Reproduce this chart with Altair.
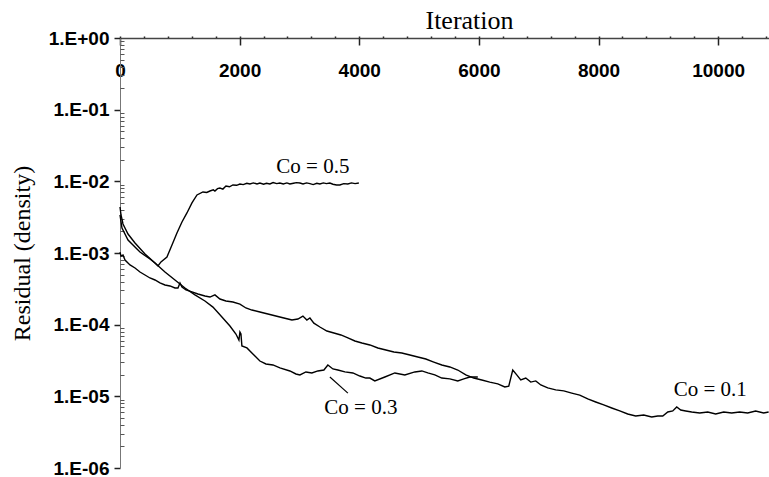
import altair as alt
import pandas as pd

# Residual history (density) for three Courant numbers
iter_co05 = [0, 33, 134, 334, 501, 585, 635, 685, 785, 869,
             952, 1036, 1119, 1203, 1287, 1387, 1450, 1504, 1560, 1587,
             1630, 1671, 1720, 1771, 1830, 1888, 1950, 2005, 2060, 2120,
             2172, 2230, 2290, 2339, 2400, 2450, 2506, 2560, 2620, 2673,
             2730, 2790, 2840, 2900, 2950, 3008, 3060, 3120, 3175, 3230,
             3290, 3342, 3400, 3450, 3509, 3560, 3620, 3676, 3740, 3809,
             3870, 3930, 3993]
res_co05 = [3.39e-3, 2.23e-3, 1.52e-3, 1.03e-3, 8.25e-4, 7.26e-4, 6.59e-4, 7.5e-4, 8.8e-4, 1.29e-3,
            1.90e-3, 2.71e-3, 3.62e-3, 4.99e-3, 6.45e-3, 7.10e-3, 7.0e-3, 7.33e-3, 7.6e-3, 7.3e-3,
            7.9e-3, 8.07e-3, 7.8e-3, 8.61e-3, 8.4e-3, 8.89e-3, 8.8e-3, 9.18e-3, 9.0e-3, 9.4e-3,
            9.18e-3, 9.5e-3, 9.2e-3, 9.48e-3, 9.1e-3, 9.4e-3, 9.18e-3, 9.6e-3, 9.3e-3, 9.48e-3,
            9.2e-3, 9.5e-3, 9.18e-3, 9.4e-3, 9.6e-3, 9.48e-3, 9.2e-3, 9.5e-3, 9.3e-3, 9.0e-3,
            9.4e-3, 9.18e-3, 9.5e-3, 9.3e-3, 9.48e-3, 9.1e-3, 8.9e-3, 8.89e-3, 9.3e-3, 9.18e-3,
            9.5e-3, 9.3e-3, 9.48e-3]

iter_co03 = [0, 17, 50, 134, 251, 418, 585, 752, 919, 1086,
             1253, 1420, 1554, 1704, 1838, 1938, 1988, 2005, 2022, 2038,
             2122, 2222, 2339, 2440, 2557, 2673, 2840, 2941, 3008, 3108,
             3208, 3308, 3409, 3475, 3559, 3643, 3760, 3893, 4010, 4110,
             4177, 4260, 4428, 4595, 4762, 4929, 5046, 5146, 5263, 5380,
             5514, 5647, 5748, 5848, 5982]
res_co03 = [4.38e-3, 3.39e-3, 2.54e-3, 1.84e-3, 1.38e-3, 9.69e-4, 7.26e-4, 5.43e-4, 4.20e-4, 3.25e-4,
            2.60e-4, 2.14e-4, 1.76e-4, 1.28e-4, 9.59e-5, 7.41e-5, 6.11e-5, 7.9e-5, 7.41e-5, 5.04e-5,
            4.73e-5, 3.90e-5, 3.11e-5, 2.83e-5, 2.74e-5, 2.49e-5, 2.26e-5, 2.05e-5, 1.99e-5, 2.19e-5,
            2.12e-5, 2.26e-5, 2.33e-5, 2.74e-5, 2.41e-5, 2.33e-5, 2.19e-5, 2.12e-5, 1.92e-5, 1.80e-5,
            1.80e-5, 1.64e-5, 1.86e-5, 2.12e-5, 1.99e-5, 2.19e-5, 2.26e-5, 2.12e-5, 1.99e-5, 1.80e-5,
            1.75e-5, 1.64e-5, 1.75e-5, 1.86e-5, 1.86e-5]

iter_co01 = [0, 17, 50, 84, 167, 251, 334, 418, 501, 585,
             668, 752, 835, 919, 969, 1003, 1036, 1103, 1203, 1303,
             1420, 1504, 1587, 1671, 1771, 1888, 2005, 2105, 2205, 2339,
             2473, 2606, 2740, 2874, 2974, 3058, 3124, 3175, 3241, 3342,
             3459, 3576, 3693, 3810, 3927, 4044, 4177, 4311, 4445, 4579,
             4712, 4846, 4979, 5113, 5246, 5380, 5514, 5647, 5781, 5915,
             6049, 6182, 6316, 6433, 6499, 6566, 6633, 6700, 6784, 6867,
             6951, 7035, 7151, 7285, 7419, 7552, 7686, 7820, 7953, 8087,
             8221, 8355, 8488, 8622, 8756, 8889, 8990, 9074, 9158, 9241,
             9308, 9374, 9458, 9558, 9692, 9826, 9959, 10093, 10226, 10360,
             10494, 10627, 10761, 10844]
res_co01 = [1.03e-3, 9.08e-4, 9.39e-4, 7.98e-4, 6.81e-4, 6.18e-4, 5.43e-4, 4.93e-4, 4.48e-4, 4.20e-4,
            3.82e-4, 3.58e-4, 3.47e-4, 3.25e-4, 3.25e-4, 3.82e-4, 3.36e-4, 3.05e-4, 2.86e-4, 2.68e-4,
            2.51e-4, 2.43e-4, 2.60e-4, 2.28e-4, 2.14e-4, 2.07e-4, 1.94e-4, 1.71e-4, 1.60e-4, 1.50e-4,
            1.41e-4, 1.32e-4, 1.24e-4, 1.16e-4, 1.20e-4, 1.32e-4, 1.16e-4, 1.24e-4, 1.05e-4, 9.28e-5,
            8.16e-5, 7.66e-5, 7.18e-5, 6.52e-5, 5.92e-5, 5.55e-5, 5.21e-5, 4.73e-5, 4.43e-5, 4.16e-5,
            4.03e-5, 3.78e-5, 3.54e-5, 3.32e-5, 3.01e-5, 2.74e-5, 2.57e-5, 2.33e-5, 1.99e-5, 1.80e-5,
            1.69e-5, 1.58e-5, 1.49e-5, 1.35e-5, 1.39e-5, 2.33e-5, 1.99e-5, 1.69e-5, 1.80e-5, 1.58e-5,
            1.64e-5, 1.44e-5, 1.31e-5, 1.23e-5, 1.19e-5, 1.11e-5, 1.04e-5, 9.19e-6, 8.34e-6, 7.58e-6,
            6.88e-6, 6.25e-6, 5.67e-6, 5.32e-6, 5.49e-6, 5.15e-6, 5.32e-6, 5.32e-6, 6.05e-6, 6.25e-6,
            7.10e-6, 6.44e-6, 6.25e-6, 6.05e-6, 5.86e-6, 6.05e-6, 5.67e-6, 6.05e-6, 5.86e-6, 6.05e-6,
            5.86e-6, 6.25e-6, 5.86e-6, 6.05e-6]

# Curve labels and the leader line for Co = 0.3
label_text = ["Co = 0.5", "Co = 0.3", "Co = 0.1"]
label_iter = [3225, 4027, 9867]
label_res = [1.58e-2, 6.87e-6, 1.23e-5]
leader_iter = [3509, 3810]
leader_res = [1.86e-5, 1.11e-5]

# Axis ticks
x_major = [0, 2000, 4000, 6000, 8000, 10000]
x_all = list(range(0, 10801, 400))
y_major = [1e-6, 1e-5, 1e-4, 1e-3, 1e-2, 1e-1, 1.0]
y_minor = [m * 10.0 ** k for k in range(-6, 0) for m in range(2, 10)]

df = pd.concat([
    pd.DataFrame({"iteration": iter_co05, "residual": res_co05, "series": "Co = 0.5"}),
    pd.DataFrame({"iteration": iter_co03, "residual": res_co03, "series": "Co = 0.3"}),
    pd.DataFrame({"iteration": iter_co01, "residual": res_co01, "series": "Co = 0.1"}),
], ignore_index=True)
labels_df = pd.DataFrame({"text": label_text, "iteration": label_iter, "residual": label_res})
leader_df = pd.DataFrame({"x1": [leader_iter[0]], "x2": [leader_iter[1]],
                          "y1": [leader_res[0]], "y2": [leader_res[1]]})

x_scale = alt.Scale(domain=[0, 10850], nice=False, zero=False)
y_scale = alt.Scale(type="log", domain=[1e-6, 1.0], nice=False)

sci_label = ("datum.value >= 1 ? '1.E+00' : "
             "'1.E-0' + format(round(-log(datum.value) / LN10), 'd')")

lines = alt.Chart(df).mark_line(color="black", strokeWidth=1.4).encode(
    x=alt.X("iteration:Q", scale=x_scale, axis=alt.Axis(
        orient="top", values=x_all, grid=False,
        labelExpr="datum.value % 2000 == 0 ? format(datum.value, 'd') : ''",
        labelFont="Liberation Sans", labelFontWeight="bold", labelFontSize=19,
        labelColor="black", labelBaseline="alphabetic", labelPadding=-40,
        labelFlush=False, labelOverlap=False,
        tickSize=2, tickColor="#222", tickWidth=1.5,
        domainColor="#444", domainWidth=1.5,
        title="Iteration", titleFont="Liberation Serif", titleFontSize=26,
        titleFontWeight="normal", titleColor="black",
        titleX=349, titleY=-10, titleBaseline="alphabetic", titleAlign="center")),
    y=alt.Y("residual:Q", scale=y_scale, axis=alt.Axis(
        orient="left", values=y_major, grid=False, labelExpr=sci_label,
        labelFont="Liberation Sans", labelFontWeight="bold", labelFontSize=19,
        labelColor="black", labelPadding=5, labelOverlap=False,
        tickSize=6, tickColor="#222", tickWidth=1.5,
        domainColor="#777", domainWidth=1,
        title="Residual (density)", titleFont="Liberation Serif", titleFontSize=24,
        titleFontWeight="normal", titleColor="black", titleAngle=270,
        titleX=-98, titleY=215, titleAlign="center", titleBaseline="middle")),
    detail="series:N",
)

# Second set of axes: long major ticks below the top axis, minor log ticks inside the left axis
ticks = alt.Chart(df).mark_point(opacity=0, size=0).encode(
    x=alt.X("iteration:Q", scale=x_scale, axis=alt.Axis(
        orient="top", values=x_major, offset=-7, tickSize=7, tickColor="#222",
        tickWidth=1.5, labels=False, domain=False, grid=False, title=None)),
    y=alt.Y("residual:Q", scale=y_scale, axis=alt.Axis(
        orient="left", values=y_minor, offset=-4, tickSize=4, tickColor="#555",
        tickWidth=1, labels=False, domain=False, grid=False, title=None)),
)

texts = alt.Chart(labels_df).mark_text(
    font="Liberation Serif", fontSize=21, color="black", align="center", baseline="middle"
).encode(
    x=alt.X("iteration:Q", scale=x_scale, axis=None),
    y=alt.Y("residual:Q", scale=y_scale, axis=None),
    text="text:N",
)

leader = alt.Chart(leader_df).mark_rule(color="black", strokeWidth=1.2).encode(
    x=alt.X("x1:Q", scale=x_scale, axis=None),
    x2="x2:Q",
    y=alt.Y("y1:Q", scale=y_scale, axis=None),
    y2="y2:Q",
)

chart = alt.layer(lines, ticks, texts, leader).resolve_axis(
    x="independent", y="independent"
).properties(
    width=649, height=430,
    autosize=alt.AutoSizeParams(type="none"),
    padding={"left": 120, "top": 38, "right": 0, "bottom": 9},
    background="white",
).configure_view(stroke=None)

chart.save("out.html", embed_options={"renderer": "svg", "actions": False})
